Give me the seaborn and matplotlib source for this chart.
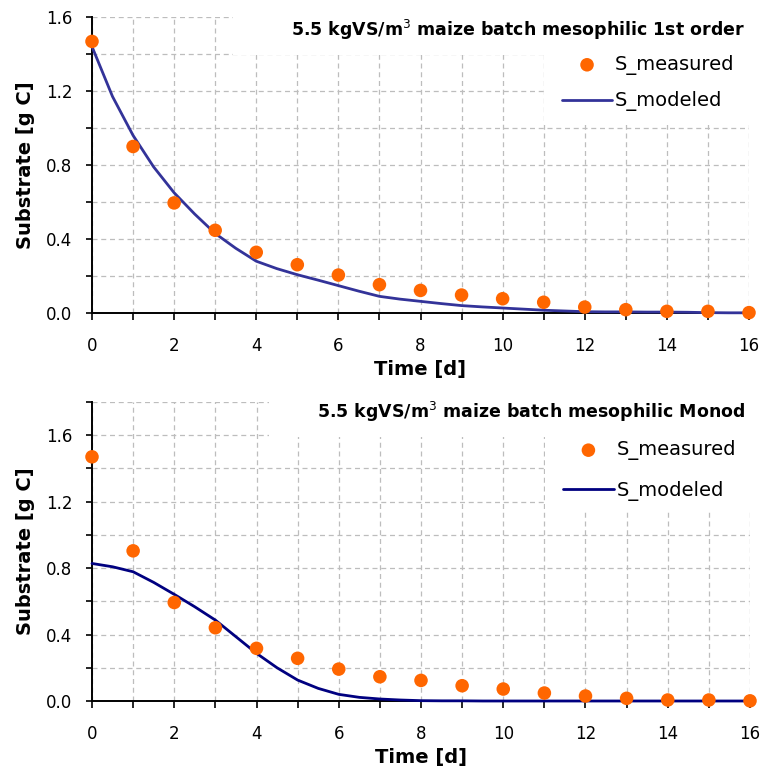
import matplotlib
matplotlib.use("Agg")
import matplotlib.pyplot as plt
import seaborn as sns
import pandas as pd
from matplotlib.ticker import MultipleLocator, FormatStrFormatter
from matplotlib.patches import Rectangle

# ---------------- data ----------------
time_days = list(range(17))
s_measured_top = [1.468, 0.900, 0.595, 0.447, 0.328, 0.261, 0.205, 0.153, 0.122,
                  0.097, 0.077, 0.058, 0.032, 0.018, 0.009, 0.009, 0.002]
s_measured_bottom = [1.470, 0.904, 0.593, 0.441, 0.317, 0.257, 0.192, 0.146, 0.124,
                     0.092, 0.072, 0.048, 0.030, 0.016, 0.006, 0.006, 0.001]

model_time = [0, 0.5, 1, 1.5, 2, 2.5, 3, 3.5, 4, 4.5, 5, 5.5, 6, 6.5, 7, 7.5, 8,
              8.5, 9, 9.5, 10, 10.5, 11, 11.5, 12, 12.5, 13, 13.5, 14, 14.5, 15, 15.5, 16]
s_model_first_order = [1.44, 1.17, 0.96, 0.79, 0.65, 0.535, 0.43, 0.35, 0.28, 0.24, 0.207,
                       0.178, 0.148, 0.118, 0.09, 0.075, 0.063, 0.051, 0.04, 0.033, 0.027,
                       0.021, 0.015, 0.011, 0.007, 0.006, 0.006, 0.005, 0.005, 0.004,
                       0.002, 0.001, 0.001]
s_model_monod = [0.828, 0.808, 0.778, 0.714, 0.642, 0.567, 0.487, 0.387, 0.287, 0.200,
                 0.126, 0.076, 0.040, 0.022, 0.012, 0.006, 0.002, 0.001, 0.001, 0.0, 0.0,
                 0.0, 0.0, 0.0, 0.0, 0.0, 0.0, 0.0, 0.0, 0.0, 0.0, 0.0, 0.0]

titles = [r"5.5 kgVS/m$^{3}$ maize batch mesophilic 1st order",
          r"5.5 kgVS/m$^{3}$ maize batch mesophilic Monod"]
x_label = "Time [d]"
y_label = "Substrate [g C]"
legend_labels = ["S_measured", "S_modeled"]

# ---------------- style ----------------
sns.set_style("white")
plt.rcParams["font.family"] = ["DejaVu Sans"]
plt.rcParams["text.color"] = "black"
plt.rcParams["axes.labelcolor"] = "black"
plt.rcParams["xtick.color"] = "black"
plt.rcParams["ytick.color"] = "black"

fig = plt.figure(figsize=(7.62, 7.71), dpi=100)
W, H = 762, 771


def px_axes(l, r, t, b):
    return [l / W, (H - b) / H, (r - l) / W, (b - t) / H]


configs = [
    dict(rect=px_axes(92, 749, 17, 313), ymax=1.6, meas=s_measured_top,
         model=s_model_first_order, color="#333399", title=titles[0],
         title_xy=(0.994, 0.956),
         title_box=(0.215, 0.872), leg_box=(0.688, 0.635),
         leg_anchor=(0.715, 0.872), spacing=0.85),
    dict(rect=px_axes(92, 750, 402, 701), ymax=1.8, meas=s_measured_bottom,
         model=s_model_monod, color="#000080", title=titles[1],
         title_xy=(0.992, 0.967),
         title_box=(0.269, 0.883), leg_box=(0.688, 0.639),
         leg_anchor=(0.716, 0.872), spacing=1.05),
]

for cfg in configs:
    ax = fig.add_axes(cfg["rect"])
    df_meas = pd.DataFrame({"t": time_days, "S": cfg["meas"]})
    df_mod = pd.DataFrame({"t": model_time, "S": cfg["model"]})

    sns.lineplot(data=df_mod, x="t", y="S", ax=ax, color=cfg["color"], linewidth=2.0,
                 label=legend_labels[1], zorder=3, clip_on=False)
    sns.scatterplot(data=df_meas, x="t", y="S", ax=ax, color="#FF6600", s=95,
                    edgecolor="none", label=legend_labels[0], zorder=4, clip_on=False)

    ax.set_xlim(0, 16)
    ax.set_ylim(0, cfg["ymax"])
    ax.xaxis.set_major_locator(MultipleLocator(2))
    ax.xaxis.set_minor_locator(MultipleLocator(1))
    ax.yaxis.set_major_locator(MultipleLocator(0.4))
    ax.yaxis.set_minor_locator(MultipleLocator(0.2))
    ax.yaxis.set_major_formatter(FormatStrFormatter("%.1f"))

    ax.set_axisbelow(True)
    ax.grid(True, which="both", color="#bdbdbd", linestyle=(0, (4, 3)), linewidth=0.9,
            zorder=0)

    for s in ["top", "right"]:
        ax.spines[s].set_visible(False)
    for s in ["left", "bottom"]:
        ax.spines[s].set_color("black")
        ax.spines[s].set_linewidth(1.4)

    ax.tick_params(axis="x", which="both", direction="out", length=5, width=1.2,
                   color="black", pad=12, labelsize=12, bottom=True)
    ax.tick_params(axis="y", which="both", direction="out", length=4, width=1.2,
                   color="black", pad=10, labelsize=12, left=True)

    ax.set_xlabel(x_label, fontsize=14, fontweight="bold", labelpad=4)
    ax.set_ylabel(y_label, fontsize=14, fontweight="bold", labelpad=8)

    # white panels behind title and legend (hide grid)
    tb = cfg["title_box"]
    ax.add_patch(Rectangle((tb[0], tb[1]), 1.05 - tb[0], 1.0 - tb[1],
                           transform=ax.transAxes, facecolor="white",
                           edgecolor="none", zorder=1, clip_on=False))
    lb = cfg["leg_box"]
    ax.add_patch(Rectangle((lb[0], lb[1]), 1.05 - lb[0], tb[1] - lb[1],
                           transform=ax.transAxes, facecolor="white",
                           edgecolor="none", zorder=1, clip_on=False))

    ax.text(cfg["title_xy"][0], cfg["title_xy"][1], cfg["title"], transform=ax.transAxes,
            ha="right", va="center", fontsize=12.5, fontweight="bold", zorder=5)

    handles, labels = ax.get_legend_handles_labels()
    order = [labels.index(legend_labels[0]), labels.index(legend_labels[1])]
    ax.legend([handles[i] for i in order], [labels[i] for i in order],
              loc="upper left", bbox_to_anchor=cfg["leg_anchor"], frameon=False,
              fontsize=14, handlelength=2.6, handletextpad=0.15, borderpad=0,
              borderaxespad=0, labelspacing=cfg["spacing"])

fig.savefig("out.png", dpi=100)
